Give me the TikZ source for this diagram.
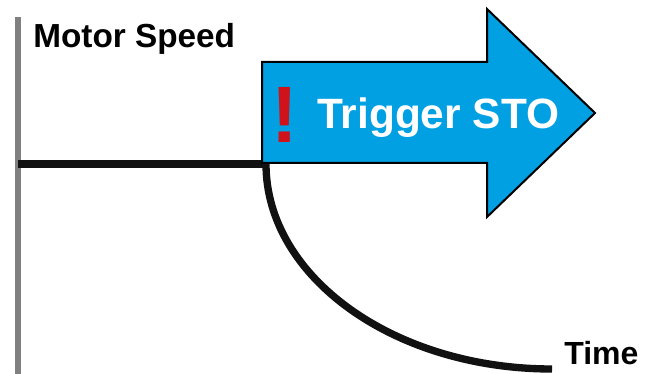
\documentclass[tikz,border=0pt]{standalone}
\usepackage{fontspec}
\setmainfont{Liberation Sans}
\usepackage{tikz}
\definecolor{stoblue}{RGB}{0,160,227}
\definecolor{stored}{RGB}{208,18,27}
\definecolor{axisgray}{RGB}{128,128,128}
\definecolor{speedblack}{RGB}{17,17,17}
\tikzstyle{axistext} = [inner sep=0pt, anchor=base west, font=\bfseries\fontsize{24}{24}\selectfont]
\tikzstyle{speed} = [speedblack, line width=5.5pt]
\tikzstyle{stoarrow} = [fill=stoblue, draw=black, line width=1.5pt, line join=miter]

\begin{document}
\begin{tikzpicture}[x=0.75pt,y=0.75pt]
\useasboundingbox (0,0) rectangle (656,374);
\coordinate (origin) at (18,0);
\coordinate (top) at (18,357);
\coordinate (stop) at (266,210);
\coordinate (rest) at (552,5);
% axis and speed curve
\draw[axisgray, line width=4.5pt] (origin) -- (top);
\draw[speed] (origin |- stop) -- (stop);
\draw[speed] (stop) .. controls (266,97) and (394,5) .. (rest);
% the trigger arrow
\draw[stoarrow] (262,312) -- (487,312) -- (487,365) -- (595,261)
  -- (487,157) -- (487,211) -- (262,211) -- cycle;
\node[axistext, font=\bfseries\fontsize{25}{25}\selectfont] (speedlabel) at (33,326) {Motor Speed};
\node[axistext] (timelabel) at (564,9) {Time};
\node[axistext, white, font=\bfseries\fontsize{31.8}{32}\selectfont] (trigger) at (317,245) {Trigger STO};
\node[axistext, stored, font=\bfseries\fontsize{60}{60}\selectfont] (warn) at (271,231) {!};
\end{tikzpicture}
\end{document}
